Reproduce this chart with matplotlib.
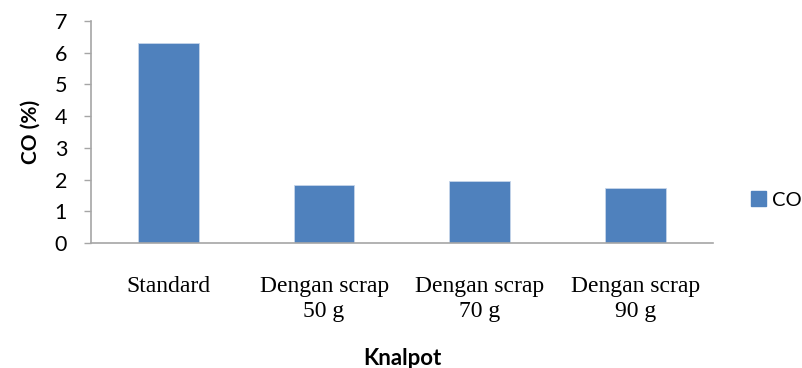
import matplotlib
matplotlib.use("Agg")
import matplotlib.pyplot as plt
from matplotlib.patches import Patch

categories = ["Standard", "Dengan scrap\n50 g", "Dengan scrap\n70 g", "Dengan scrap\n90 g"]
co_values = [6.32, 1.82, 1.97, 1.73]
y_ticks = [0, 1, 2, 3, 4, 5, 6, 7]

fig = plt.figure(figsize=(8.03, 3.68), dpi=100)
ax = fig.add_axes([0.113, 0.3397, 0.775, 0.6033])

x = list(range(len(categories)))
ax.bar(x, co_values, width=0.39, color="#4F81BD", edgecolor="#C6D5EA", linewidth=0.6, zorder=2)

ax.set_xlim(-0.5, len(categories) - 0.5)
ax.set_ylim(0, 7)
ax.set_yticks(y_ticks)
ax.set_yticklabels([str(t) for t in y_ticks], fontfamily="Lato", fontsize=15.5)
ax.set_xticks(x)
ax.set_xticklabels(categories, fontfamily="Liberation Serif", fontsize=17, linespacing=1.2)
ax.tick_params(axis="x", length=0, pad=24)
ax.tick_params(axis="y", length=5, width=1, color="#A6A6A6", pad=12)

for s in ["top", "right"]:
    ax.spines[s].set_visible(False)
for s in ["left", "bottom"]:
    ax.spines[s].set_color("#A6A6A6")
    ax.spines[s].set_linewidth(1.2)

ax.set_ylabel("CO (%)", fontfamily="Lato", fontweight="bold", fontsize=15, labelpad=10)
fig.text(0.501, -0.002, "Knalpot", fontfamily="Lato", fontweight="bold", fontsize=16,
         ha="center", va="bottom")

leg = fig.legend(handles=[Patch(facecolor="#4F81BD", edgecolor="#4F81BD", label="CO")],
                 loc="center left", bbox_to_anchor=(0.935, 0.457), frameon=False,
                 prop={"family": "Lato", "size": 14.5}, handlelength=0.75, handleheight=0.75,
                 handletextpad=0.3, borderaxespad=0, borderpad=0)

fig.savefig("out.png", dpi=100)
